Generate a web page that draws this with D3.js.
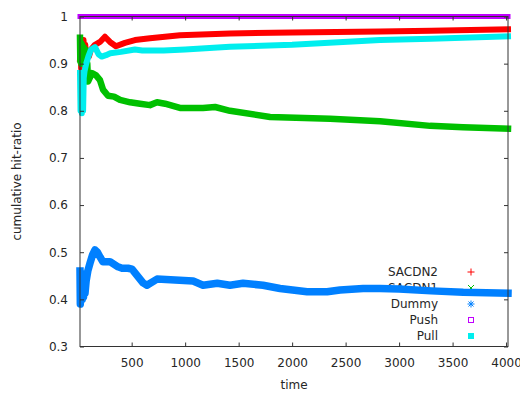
<!DOCTYPE html>
<html>
<head>
<meta charset="utf-8">
<script src="https://cdn.jsdelivr.net/npm/d3@7"></script>
<style>
  html, body { margin: 0; padding: 0; background: #fff; }
  svg { display: block; }
  text { font-family: "DejaVu Sans", sans-serif; font-size: 12px; fill: #262626; }
</style>
</head>
<body>
<svg id="chart" width="520" height="396"></svg>
<script>
// Cumulative hit-ratio over time for each caching strategy: [time, ratio]
const sacdn2 = [
  [17, 0.91], [22, 0.94], [28, 0.89], [35, 0.945], [42, 0.90], [50, 0.95], [58, 0.91],
  [66, 0.94], [75, 0.905], [85, 0.925], [100, 0.915], [120, 0.93], [157, 0.94],
  [204, 0.946], [250, 0.957], [297, 0.946], [353, 0.937], [437, 0.944], [531, 0.950],
  [671, 0.954], [951, 0.960], [1419, 0.964], [2000, 0.966], [2822, 0.968],
  [3300, 0.970], [4018, 0.973]
];
const sacdn1 = [
  [17, 0.955], [20, 0.905], [25, 0.945], [30, 0.90], [36, 0.94], [42, 0.91], [50, 0.935],
  [58, 0.905], [66, 0.93], [75, 0.91], [85, 0.90], [92, 0.862], [129, 0.880],
  [167, 0.875], [204, 0.865], [232, 0.845], [279, 0.832], [335, 0.830], [391, 0.823],
  [485, 0.818], [578, 0.815], [671, 0.812], [737, 0.818], [812, 0.815], [951, 0.806],
  [1167, 0.806], [1280, 0.808], [1419, 0.800], [1794, 0.787], [2355, 0.783],
  [2822, 0.778], [3290, 0.768], [3598, 0.765], [4018, 0.762]
];
const dummy = [
  [17, 0.46], [20, 0.39], [24, 0.45], [28, 0.40], [33, 0.455], [38, 0.40], [44, 0.44],
  [50, 0.405], [57, 0.43], [64, 0.413], [75, 0.44], [90, 0.46], [111, 0.477],
  [135, 0.495], [157, 0.505], [180, 0.500], [204, 0.490], [230, 0.480], [297, 0.480],
  [372, 0.469], [410, 0.466], [466, 0.466], [503, 0.464], [606, 0.435], [643, 0.430],
  [737, 0.443], [1074, 0.439], [1167, 0.430], [1300, 0.434], [1419, 0.430],
  [1541, 0.434], [1728, 0.430], [1887, 0.423], [2140, 0.416], [2327, 0.416],
  [2448, 0.420], [2663, 0.423], [2822, 0.423], [3000, 0.422], [3300, 0.418],
  [3600, 0.415], [4018, 0.413]
];
const push = [[17, 1.0], [4018, 1.0]];
const pull = [
  [17, 0.88], [22, 0.80], [28, 0.87], [34, 0.795], [40, 0.86], [46, 0.80], [52, 0.87],
  [60, 0.885], [75, 0.90], [95, 0.915], [120, 0.930], [157, 0.935], [190, 0.920],
  [220, 0.915], [260, 0.918], [300, 0.922], [400, 0.925], [530, 0.930], [600, 0.928],
  [800, 0.928], [1000, 0.930], [1419, 0.936], [2000, 0.940], [2822, 0.950],
  [3300, 0.953], [4018, 0.958]
];

const seriesNames = ["SACDN2", "SACDN1", "Dummy", "Push", "Pull"];
const seriesData = [sacdn2, sacdn1, dummy, push, pull];
const seriesColors = ["#ff0000", "#00c000", "#0080ff", "#c000ff", "#00eeee"];
const seriesMarkers = ["plus", "cross", "star", "openSquare", "filledSquare"];

const xTicks = [500, 1000, 1500, 2000, 2500, 3000, 3500, 4000];
const yTicks = [0.3, 0.4, 0.5, 0.6, 0.7, 0.8, 0.9, 1.0];
const xDomain = [17, 4018];
const yDomain = [0.3, 1.0];

const svg = d3.select("#chart");
const plotLeft = 80, plotRight = 508, plotTop = 16.5, plotBottom = 346.5;

const x = d3.scaleLinear().domain(xDomain).range([plotLeft, plotRight]);
const y = d3.scaleLinear().domain(yDomain).range([plotBottom, plotTop]);

// Key (data drawn afterwards sits on top of it)
const key = svg.append("g");
seriesNames.forEach((name, i) => {
  const ky = 272 + i * 16;
  key.append("text")
    .attr("x", 438).attr("y", ky)
    .attr("text-anchor", "end")
    .attr("dominant-baseline", "central")
    .text(name);
  const g = key.append("g").attr("transform", `translate(471,${ky})`)
    .attr("stroke", seriesColors[i]).attr("fill", "none").attr("stroke-width", 1);
  const m = seriesMarkers[i];
  if (m === "plus") {
    g.append("path").attr("d", "M-3.5,0H3.5M0,-3.5V3.5");
  } else if (m === "cross") {
    g.append("path").attr("d", "M-3,-3L3,3M-3,3L3,-3");
  } else if (m === "star") {
    g.append("path").attr("d", "M-3.5,0H3.5M0,-3.5V3.5M-2.5,-2.5L2.5,2.5M-2.5,2.5L2.5,-2.5");
  } else if (m === "openSquare") {
    g.append("rect").attr("x", -2.5).attr("y", -2.5).attr("width", 5).attr("height", 5);
  } else {
    g.append("rect").attr("x", -3).attr("y", -3).attr("width", 6).attr("height", 6)
      .attr("fill", seriesColors[i]).attr("stroke", "none");
  }
});

// Data series, drawn as dense bands
const line = d3.line().x(d => x(d[0])).y(d => y(d[1]));
const widths = [6, 6.5, 7.5, 5, 6];
seriesData.forEach((data, i) => {
  svg.append("path")
    .datum(data)
    .attr("d", line)
    .attr("fill", "none")
    .attr("stroke", seriesColors[i])
    .attr("stroke-width", widths[i])
    .attr("stroke-linejoin", "round")
    .attr("stroke-linecap", "square");
});

// Axes: ticks point inward, mirrored on the opposite sides
const tickLen = 4;
const axisColor = "#333";
svg.append("g").attr("transform", `translate(0,${plotBottom})`)
  .call(d3.axisBottom(x).tickValues(xTicks).tickSize(-tickLen).tickPadding(12).tickFormat(d3.format("d")))
  .call(g => g.select(".domain").remove())
  .call(g => g.selectAll("line").attr("stroke", axisColor))
  .call(g => g.selectAll("text").attr("font-size", 12).attr("fill", "#262626").attr("font-family", "DejaVu Sans"));
svg.append("g").attr("transform", `translate(0,${plotTop})`)
  .call(d3.axisTop(x).tickValues(xTicks).tickSize(-tickLen).tickFormat(""))
  .call(g => g.select(".domain").remove())
  .call(g => g.selectAll("line").attr("stroke", axisColor));
svg.append("g").attr("transform", `translate(${plotLeft},0)`)
  .call(d3.axisLeft(y).tickValues(yTicks).tickSize(-tickLen).tickPadding(12).tickFormat(d3.format("~g")))
  .call(g => g.select(".domain").remove())
  .call(g => g.selectAll("line").attr("stroke", axisColor))
  .call(g => g.selectAll("text").attr("font-size", 12).attr("fill", "#262626").attr("font-family", "DejaVu Sans"));
svg.append("g").attr("transform", `translate(${plotRight},0)`)
  .call(d3.axisRight(y).tickValues(yTicks).tickSize(-tickLen).tickFormat(""))
  .call(g => g.select(".domain").remove())
  .call(g => g.selectAll("line").attr("stroke", axisColor));

// Plot border
svg.append("rect")
  .attr("x", plotLeft).attr("y", plotTop)
  .attr("width", plotRight - plotLeft).attr("height", plotBottom - plotTop)
  .attr("fill", "none").attr("stroke", axisColor).attr("stroke-width", 1);

// Axis titles
svg.append("text")
  .attr("x", (plotLeft + plotRight) / 2).attr("y", 389)
  .attr("text-anchor", "middle")
  .text("time");
svg.append("text")
  .attr("transform", `translate(21,${(plotTop + plotBottom) / 2}) rotate(-90)`)
  .attr("text-anchor", "middle")
  .text("cumulative hit-ratio");
</script>
</body>
</html>
